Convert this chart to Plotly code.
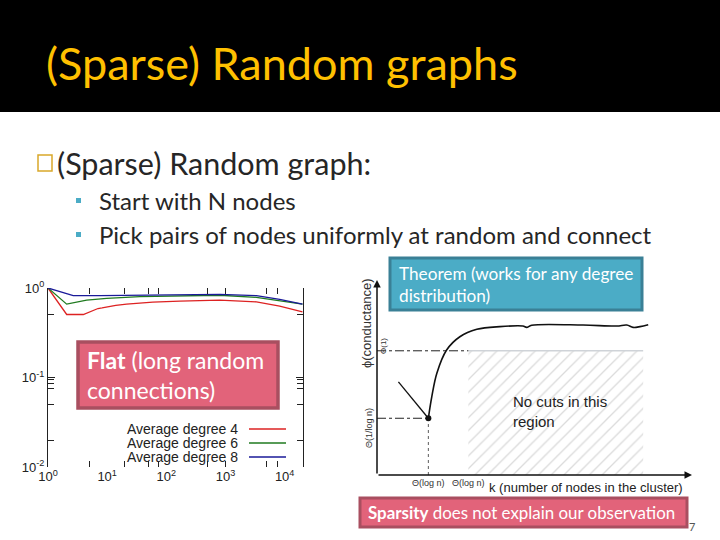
import plotly.graph_objects as go

W, H = 720, 540

# ---------------- data: left chart (conductance vs cluster size) ----------------
deg4_x = [1, 2.07, 3.95, 5.0, 5.8, 6.4, 7.0, 8.2, 9.8, 14, 21.3, 59, 169, 800, 3330, 8240, 20000]
deg4_y = [1.0, 0.506, 0.506, 0.54, 0.566, 0.575, 0.59, 0.60, 0.616, 0.64, 0.66, 0.696, 0.714, 0.733, 0.70, 0.628, 0.54]
deg6_x = [1, 2.07, 4.5, 9.8, 35.7, 169, 800, 3330, 8240, 20000]
deg6_y = [1.0, 0.66, 0.733, 0.766, 0.80, 0.82, 0.83, 0.786, 0.72, 0.66]
deg8_x = [1, 2.67, 7.5, 35.7, 169, 800, 3330, 8240, 20000]
deg8_y = [1.0, 0.82, 0.82, 0.834, 0.85, 0.85, 0.82, 0.746, 0.66]
series_names = ["Average degree 4", "Average degree 6", "Average degree 8"]
series_colors = ["#dd2222", "#1f7a1f", "#1a1a99"]

x_tickvals = [1, 10, 100, 1000, 10000]
x_ticktext = ["10<sup>0</sup>", "10<sup>1</sup>", "10<sup>2</sup>", "10<sup>3</sup>", "10<sup>4</sup>"]
x_minor = [5, 20, 50, 75, 500, 1000, 5000, 7500]
y_tickvals = [1, 0.1, 0.01]
y_ticktext = ["10<sup>0</sup>", "10<sup>-1</sup>", "10<sup>-2</sup>"]
y_minor = [0.5, 0.095, 0.085, 0.075, 0.05, 0.02]

# ---------------- data: right schematic (theorem sketch) ----------------
k_curve = [1.63, 1.74, 1.90, 2.21, 2.63, 3.17, 3.90, 4.63, 4.75, 4.91, 6.54, 7.61, 7.93, 8.13, 8.35, 8.61]
phi_curve = [0.291, 0.402, 0.522, 0.641, 0.709, 0.747, 0.761, 0.764, 0.757, 0.768, 0.769, 0.764, 0.769, 0.757, 0.761, 0.771]
theta_one = 0.637          # Θ(1) level
k_logn = 2.90              # Θ(log n) on the k axis
k_small = 1.63             # first Θ(log n) mark
phi_small = 0.291          # Θ(1/log n)
k_region_end = 8.45
diag_start = (0.68, 0.478)


def px(x):
    return x / W


def py(y):
    return 1 - y / H


fig = go.Figure()

# left chart lines
for xs, ys, name, col in zip([deg4_x, deg6_x, deg8_x], [deg4_y, deg6_y, deg8_y], series_names, series_colors):
    fig.add_trace(go.Scatter(x=xs, y=ys, mode="lines", name=name,
                             line=dict(color=col, width=1.3), showlegend=False,
                             xaxis="x", yaxis="y"))

# right schematic
fig.add_trace(go.Scatter(x=[k_logn, k_region_end, k_region_end, k_logn, k_logn],
                         y=[0, 0, theta_one, theta_one, 0], fill="toself", mode="lines",
                         line=dict(width=0), fillcolor="white",
                         fillpattern=dict(shape="/", fgcolor="#b8b8b8", bgcolor="white", size=9, solidity=0.15),
                         showlegend=False, xaxis="x2", yaxis="y2", hoverinfo="skip"))
fig.add_trace(go.Scatter(x=[k_logn, k_region_end], y=[theta_one, theta_one], mode="lines",
                         line=dict(color="#cfd3d8", width=1.5), showlegend=False, xaxis="x2", yaxis="y2"))
fig.add_trace(go.Scatter(x=[0, k_logn], y=[theta_one, theta_one], mode="lines",
                         line=dict(color="#222", width=1, dash="dashdot"), showlegend=False, xaxis="x2", yaxis="y2"))
fig.add_trace(go.Scatter(x=[0, k_small], y=[phi_small, phi_small], mode="lines",
                         line=dict(color="#222", width=1, dash="dashdot"), showlegend=False, xaxis="x2", yaxis="y2"))
fig.add_trace(go.Scatter(x=[k_small, k_small], y=[0, phi_small], mode="lines",
                         line=dict(color="#333", width=0.8, dash="dot"), showlegend=False, xaxis="x2", yaxis="y2"))
fig.add_trace(go.Scatter(x=[diag_start[0], k_small], y=[diag_start[1], phi_small], mode="lines",
                         line=dict(color="#111", width=1.3), showlegend=False, xaxis="x2", yaxis="y2"))
fig.add_trace(go.Scatter(x=k_curve, y=phi_curve, mode="lines", line=dict(color="#111", width=1.6, shape="spline"),
                         showlegend=False, xaxis="x2", yaxis="y2"))
fig.add_trace(go.Scatter(x=[k_small], y=[phi_small], mode="markers", marker=dict(color="#111", size=6),
                         showlegend=False, xaxis="x2", yaxis="y2"))

tickfont = dict(family="Liberation Sans, Arial", size=13, color="#222")

fig.update_layout(
    width=W, height=H, margin=dict(l=0, r=0, t=0, b=0, pad=0, autoexpand=False),
    paper_bgcolor="white", plot_bgcolor="rgba(0,0,0,0)", showlegend=False,
    xaxis=dict(type="log", range=[0, 4.31], domain=[px(48), px(303)], anchor="y", automargin=False,
               tickmode="array", tickvals=x_tickvals, ticktext=x_ticktext, ticks="inside", ticklen=0,
               showline=False, showgrid=False, zeroline=False, mirror="ticks", tickfont=tickfont,
               minor=dict(tickmode="array", tickvals=x_minor, ticks="inside", ticklen=6, tickcolor="#222", showgrid=False)),
    yaxis=dict(type="log", range=[-2, 0], domain=[py(467), py(288)], anchor="x", automargin=False,
               tickmode="array", tickvals=y_tickvals, ticktext=y_ticktext, ticks="inside", ticklen=7, tickcolor="#222",
               showline=True, linecolor="#222", linewidth=1, showgrid=False, zeroline=False, mirror="ticks",
               tickfont=tickfont,
               minor=dict(tickmode="array", tickvals=y_minor, ticks="inside", ticklen=6, tickcolor="#222", showgrid=False)),
    xaxis2=dict(range=[0, 10], domain=[px(377), px(692)], anchor="y2", visible=False, automargin=False),
    yaxis2=dict(range=[0, 1], domain=[py(475), py(280)], anchor="x2", visible=False, automargin=False),
)

shapes = []
# header band
shapes.append(dict(type="rect", xref="paper", yref="paper", x0=0, x1=1, y0=py(112), y1=1,
                   fillcolor="black", line=dict(width=0), layer="below"))
# bullet square
shapes.append(dict(type="rect", xref="paper", yref="paper", x0=px(38), x1=px(52), y0=py(171), y1=py(155),
                   fillcolor="rgba(0,0,0,0)", line=dict(color="#d9a82a", width=1.5)))
for yc in [200, 234]:
    shapes.append(dict(type="rect", xref="paper", yref="paper", x0=px(76), x1=px(81), y0=py(yc + 3), y1=py(yc - 2),
                       fillcolor="#4bacc6", line=dict(width=0)))
# legend line samples
for yc, col in zip([429, 443, 457], series_colors):
    shapes.append(dict(type="line", xref="paper", yref="paper", x0=px(249), x1=px(286), y0=py(yc), y1=py(yc),
                       line=dict(color=col, width=1.3)))
# callout boxes
shapes.append(dict(type="rect", xref="paper", yref="paper", x0=px(78), x1=px(278), y0=py(408), y1=py(342),
                   fillcolor="#e2637a", line=dict(color="#a94f60", width=3.5)))
shapes.append(dict(type="rect", xref="paper", yref="paper", x0=px(390), x1=px(642), y0=py(310), y1=py(258),
                   fillcolor="#4bacc6", line=dict(color="#3a8096", width=3)))
shapes.append(dict(type="rect", xref="paper", yref="paper", x0=px(360), x1=px(687), y0=py(527), y1=py(498),
                   fillcolor="#e2637a", line=dict(color="#a94f60", width=3)))
fig.update_layout(shapes=shapes)

ann = []
body_font = "Lato, Open Sans, sans-serif"


def txt(x, y, text, size, color, family=body_font, xanchor="left", **kw):
    ann.append(dict(x=px(x), y=py(y), xref="paper", yref="paper", xanchor=xanchor, yanchor="middle",
                    showarrow=False, text=text, font=dict(family=family, size=size, color=color), **kw))


txt(44, 63, "(Sparse) Random graphs", 45, "#ffc000")
txt(55, 163, "(Sparse) Random graph:", 30.5, "#262626")
txt(97, 200, "Start with N nodes", 24, "#262626")
txt(97, 234, "Pick pairs of nodes uniformly at random and connect", 24, "#262626")
# legend text
for yc, name in zip([429, 443, 457], series_names):
    txt(240, yc, name, 14, "#222", family="Liberation Sans, Arial", xanchor="right")
# callout texts
txt(85, 375, "<b>Flat</b> (long random<br>connections)", 23, "white", align="left")
txt(397, 284, "Theorem (works for any degree<br>distribution)", 17.2, "white", align="left")
txt(366, 512, "<b>Sparsity</b> does not explain our observation", 16.9, "white")
txt(692, 526, "7", 11, "#555", xanchor="center")

# schematic axes arrows
ann.append(dict(x=10, y=0, ax=0, ay=0, xref="x2", yref="y2", axref="x2", ayref="y2", showarrow=True,
                arrowhead=2, arrowsize=1, arrowwidth=1.5, arrowcolor="#111", text=""))
ann.append(dict(x=0, y=1, ax=0, ay=0, xref="x2", yref="y2", axref="x2", ayref="y2", showarrow=True,
                arrowhead=2, arrowsize=1, arrowwidth=1.5, arrowcolor="#111", text=""))
sfont = "Liberation Sans, Arial"
txt(366, 323, "ϕ(conductance)", 13, "#333", family=sfont, xanchor="center", textangle=-90)
txt(383, 346, "Θ(1)", 8, "#333", family=sfont, xanchor="center", textangle=-90)
txt(369, 428, "Θ(1/log n)", 9, "#333", family=sfont, xanchor="center", textangle=-90)
ann.append(dict(x=k_small, y=0, xref="x2", yref="y2", xanchor="center", yanchor="top", yshift=-1, showarrow=False,
                text="Θ(log n)", font=dict(family=sfont, size=9, color="#333")))
ann.append(dict(x=k_logn, y=0, xref="x2", yref="y2", xanchor="center", yanchor="top", yshift=-1, showarrow=False,
                text="Θ(log n)", font=dict(family=sfont, size=9, color="#333")))
txt(487, 487, "k (number of nodes in the cluster)", 13, "#222", family=sfont)
txt(511, 411, "No cuts in this<br>region", 15, "#222", family=sfont, align="left")
fig.update_layout(annotations=ann)

fig.write_html(
    "out.html",
    config={"displayModeBar": False},
    post_script="document.body.style.margin='0';",
)
